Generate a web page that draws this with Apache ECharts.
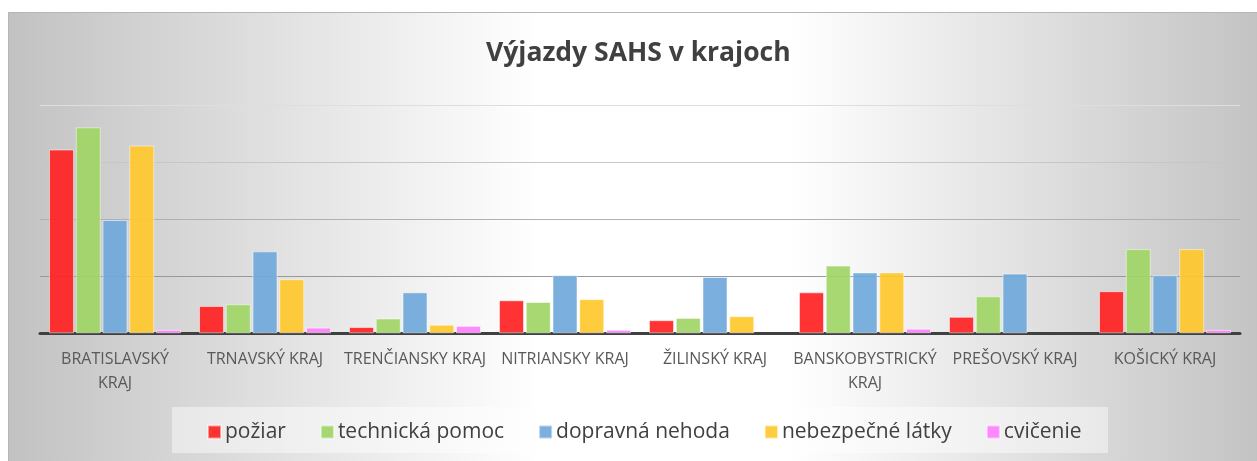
<!DOCTYPE html>
<html>
<head>
<meta charset="utf-8">
<script src="https://cdn.jsdelivr.net/npm/echarts@6/dist/echarts.min.js"></script>
<style>
html,body{margin:0;padding:0;background:#fff;}
#chart{width:1257px;height:461px;}
</style>
</head>
<body>
<div id="chart"></div>
<script>
const categories = ['BRATISLAVSKÝ\nKRAJ', 'TRNAVSKÝ KRAJ', 'TRENČIANSKY KRAJ', 'NITRIANSKY KRAJ', 'ŽILINSKÝ KRAJ', 'BANSKOBYSTRICKÝ\nKRAJ', 'PREŠOVSKÝ KRAJ', 'KOŠICKÝ KRAJ'];
const seriesNames = ['požiar', 'technická pomoc', 'dopravná nehoda', 'nebezpečné látky', 'cvičenie'];
const poziar = [323, 48, 11, 58, 23, 72, 29, 74];
const technickaPomoc = [362, 51, 26, 55, 27, 119, 65, 148];
const dopravnaNehoda = [199, 144, 72, 102, 99, 107, 105, 102];
const nebezpecneLatky = [330, 95, 15, 60, 30, 107, 0, 148];
const cvicenie = [6, 10, 13, 6, 0, 8, 0, 6];
const seriesValues = [poziar, technickaPomoc, dopravnaNehoda, nebezpecneLatky, cvicenie];
const colors = ['#ff2222', '#9fd566', '#70a8da', '#fec82b', '#ff7fff'];

const chart = echarts.init(document.getElementById('chart'), null, {renderer: 'canvas'});
const FONT = '"Open Sans", "Noto Sans", sans-serif';

chart.setOption({
  animation: false,
  graphic: [
    {
      type: 'rect', z: -10, silent: true,
      shape: {x: 8.5, y: 12.5, width: 1260, height: 460},
      style: {
        fill: new echarts.graphic.LinearGradient(0, 0, 1, 0, [
          {offset: 0, color: '#c2c2c2'},
          {offset: 0.42, color: '#ffffff'},
          {offset: 0.62, color: '#ffffff'},
          {offset: 1, color: '#c2c2c2'}
        ]),
        stroke: '#b5b5b5', lineWidth: 1
      }
    },
    {
      type: 'rect', z: -9, silent: true,
      shape: {x: 172, y: 407, width: 936, height: 46},
      style: {fill: 'rgba(255,255,255,0.45)'}
    }
  ],
  title: {
    text: 'Výjazdy SAHS v krajoch',
    left: 486,
    top: 40,
    padding: 0,
    textStyle: {fontFamily: FONT, fontWeight: 'bold', fontSize: 26.5, color: '#404040'}
  },
  legend: {
    data: seriesNames,
    left: 207,
    top: 421,
    padding: 0,
    itemWidth: 13,
    itemHeight: 13,
    itemGap: 34,
    icon: 'rect',
    textStyle: {fontFamily: FONT, fontSize: 21, color: '#404040', lineHeight: 22, padding: [0, 0, 0, -1]}
  },
  grid: {left: 40, right: 17, top: 105.7, bottom: 127.7, containLabel: false},
  xAxis: {
    type: 'category',
    data: categories,
    axisLine: {show: true, lineStyle: {color: '#404040', width: 3}},
    axisTick: {show: false},
    axisLabel: {fontFamily: FONT, fontSize: 16, color: '#595959', margin: 14, lineHeight: 24, interval: 0}
  },
  yAxis: {
    type: 'value',
    min: 0, max: 400, interval: 100,
    axisLabel: {show: false},
    axisLine: {show: false},
    axisTick: {show: false},
    splitLine: {show: true, lineStyle: {color: ['#999999', '#999999', '#b0b0b0', '#c6c6c6', '#dedede'], width: 1.2}}
  },
  series: seriesNames.map((name, i) => ({
    name: name,
    type: 'bar',
    data: seriesValues[i].map(v => (v === 0 ? null : v)),
    barWidth: 25,
    barGap: '7%',
    itemStyle: {color: colors[i], opacity: 0.92, borderColor: 'rgba(255,255,255,0.55)', borderWidth: 1}
  }))
});
</script>
</body>
</html>
